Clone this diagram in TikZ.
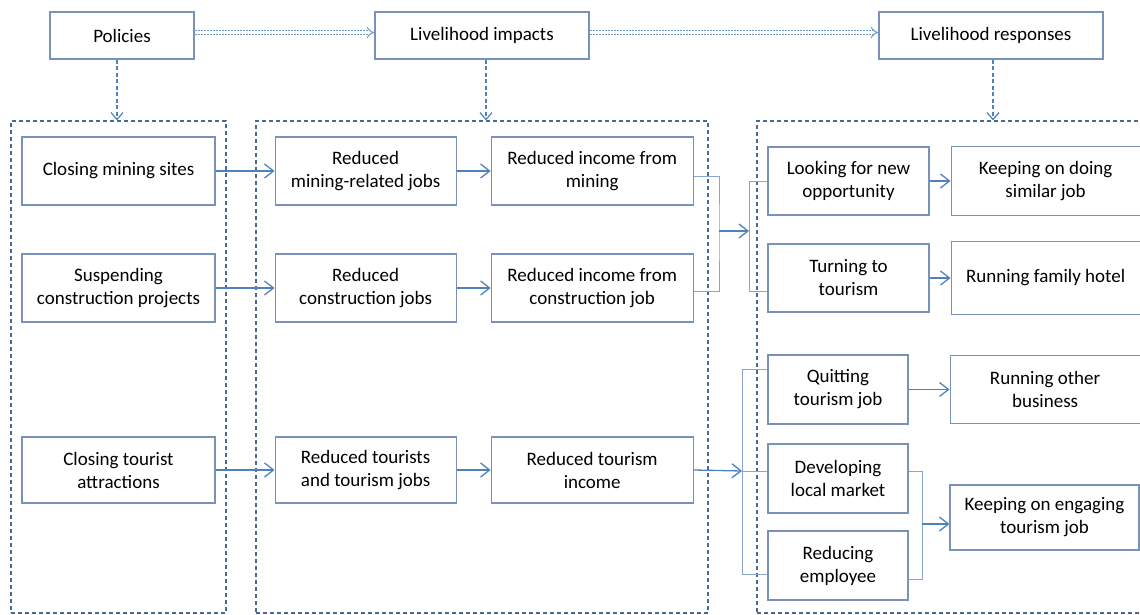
\documentclass[tikz,border=0pt]{standalone}
\usepackage{fontspec}
\setmainfont{Carlito}
\usetikzlibrary{positioning,arrows.meta,calc}
\definecolor{boxline}{RGB}{120,146,188}
\definecolor{arrowblue}{RGB}{79,129,189}
\definecolor{groupline}{RGB}{72,104,150}
\definecolor{linkline}{RGB}{135,165,206}

\begin{document}
\begin{tikzpicture}[
  x=1pt, y=-1pt,
  >={Straight Barb[length=9pt,width=14pt]},
  box/.style={rectangle, draw=boxline, line width=1.1pt, fill=white, minimum height=68pt, align=center, font=\fontsize{19}{23}\selectfont, inner sep=2pt},
  headbox/.style={box, minimum height=47pt},
  group/.style={rectangle, draw=groupline, line width=1.1pt, dash pattern=on 4pt off 3pt, minimum height=492pt},
  arrow/.style={->, arrowblue, line width=1.3pt},
  link/.style={linkline, line width=1pt},
  downarrow/.style={-{Straight Barb[length=7pt,width=12pt]}, arrowblue, line width=1.2pt, dash pattern=on 4pt off 2.5pt},
  stagearrow/.style={-{Implies}, draw=arrowblue!80, double=white, double distance=3pt, line width=1pt, dash pattern=on 2pt off 1pt},
]
  \useasboundingbox (0,0) rectangle (1140,615);

  % Dashed groups
  \node[group, minimum width=215pt] (polgroup) at (118.5,367) {};
  \node[group, minimum width=452pt] (impgroup) at (482,367) {};
  \node[group, minimum width=403pt] (resgroup) at (958.5,367) {};

  % Header row
  \node[headbox, minimum width=144pt] (policies) at (122,35.5) {Policies};
  \node[headbox, minimum width=214pt] (impacts) at (482,35.5) {Livelihood impacts};
  \node[headbox, minimum width=224pt] (responses) at (991,35.5) {Livelihood responses};

  % Policies
  \node[box, minimum width=193pt] (closemine) at (118.5,171) {Closing mining sites};
  \node[box, minimum width=193pt] (stopbuild) at (118.5,288) {Suspending\\construction projects};
  \node[box, minimum width=193pt, minimum height=66pt] (closetour) at (118.5,470) {Closing tourist\\attractions};

  % Impacts
  \node[box, minimum width=181pt, right=59pt of closemine] (lessminejob) {Reduced\\mining-related jobs};
  \node[box, minimum width=181pt, right=59pt of stopbuild] (lessbuildjob) {Reduced\\construction jobs};
  \node[box, minimum width=181pt, minimum height=66pt, right=59pt of closetour] (lesstour) {Reduced tourists\\and tourism jobs};
  \node[box, minimum width=202pt, right=34pt of lessminejob] (incmine) {Reduced income from\\mining};
  \node[box, minimum width=202pt, right=34pt of lessbuildjob] (incbuild) {Reduced income from\\construction job};
  \node[box, minimum width=202pt, minimum height=66pt, right=34pt of lesstour] (inctour) {Reduced tourism\\income};

  % Responses
  \node[box, minimum width=161pt] (look) at (848.5,181) {Looking for new\\opportunity};
  \node[box, minimum width=161pt] (turn) at (848.5,278) {Turning to\\tourism};
  \node[box, minimum width=140pt, minimum height=69pt] (quit) at (838,389.5) {Quitting\\tourism job};
  \node[box, minimum width=140pt, minimum height=69pt] (develop) at (838,478.5) {Developing\\local market};
  \node[box, minimum width=140pt, minimum height=69pt] (reduce) at (838,565.5) {Reducing\\employee};
  \node[box, minimum width=189pt, minimum height=69pt, right=21pt of look] (keepsim) {Keeping on doing\\similar job};
  \node[box, minimum width=189pt, minimum height=73pt, right=21pt of turn] (hotel) {Running family hotel};
  \node[box, minimum width=190pt, right=41pt of quit] (otherbiz) {Running other\\business};
  \node[box, minimum width=189pt, minimum height=65pt] (keepeng) at (1044.5,517.5) {Keeping on engaging\\tourism job};

  % Header links
  \draw[stagearrow] ([yshift=3pt]policies.east) -- ([yshift=3pt]impacts.west);
  \draw[stagearrow] ([yshift=3pt]impacts.east) -- ([yshift=3pt]responses.west);
  \draw[downarrow] ([xshift=-5pt]policies.south) -- ([xshift=-5pt]policies.south |- polgroup.north);
  \draw[downarrow] ([xshift=4pt]impacts.south) -- ([xshift=4pt]impacts.south |- impgroup.north);
  \draw[downarrow] ([xshift=2pt]responses.south) -- ([xshift=2pt]responses.south |- resgroup.north);

  % Policies -> impacts
  \draw[arrow] (closemine) -- (lessminejob);
  \draw[arrow] (stopbuild) -- (lessbuildjob);
  \draw[arrow] (closetour) -- (lesstour);
  \draw[arrow] (lessminejob) -- (incmine);
  \draw[arrow] (lessbuildjob) -- (incbuild);
  \draw[arrow] (lesstour) -- (inctour);

  % Mining and construction -> responses
  \coordinate (minejoin) at (719,231);
  \coordinate (lookjoin) at (749,231);
  \draw[link] ([yshift=-5pt]incmine.east) -| (minejoin) |- ([yshift=-3pt]incbuild.east);
  \draw[arrow] (minejoin) -- (lookjoin);
  \draw[link] (look.west) -| (lookjoin) |- ([yshift=-13pt]turn.west);
  \draw[arrow] (look.east) -- (look.east -| keepsim.west);
  \draw[arrow] (turn) -- (hotel);

  % Tourism -> responses
  \coordinate (tourjoin) at (742,471);
  \draw[arrow] (inctour.east) -- (tourjoin);
  \draw[link] ([yshift=20pt]quit.west) -| (tourjoin) |- ([yshift=-8.5pt]reduce.west);
  \draw[link] (tourjoin) -- (tourjoin -| develop.west);
  \draw[arrow] (quit) -- (otherbiz);
  \coordinate (keepjoin) at (922,524);
  \draw[link] ([yshift=7.5pt]develop.east) -| (keepjoin) |- ([yshift=-13.5pt]reduce.east);
  \draw[arrow] (keepjoin) -- (keepjoin -| keepeng.west);
\end{tikzpicture}
\end{document}
